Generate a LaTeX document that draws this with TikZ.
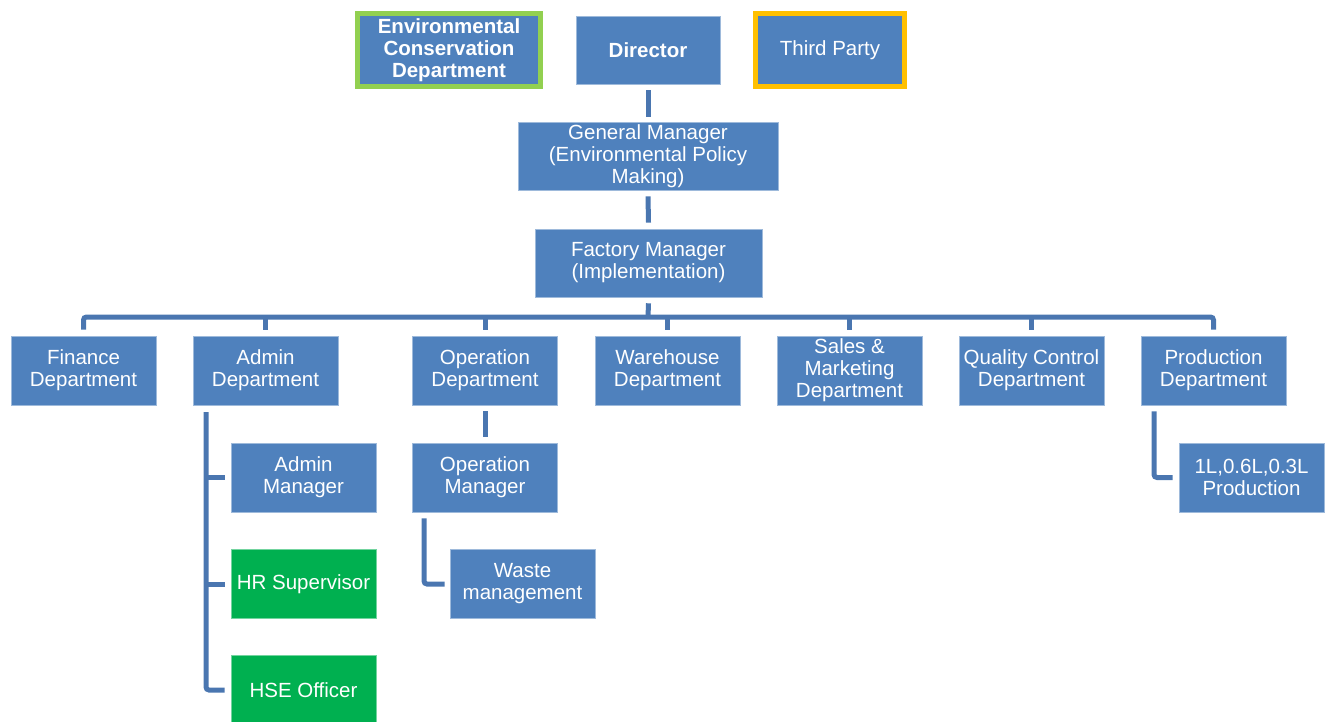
\documentclass[tikz,border=0pt]{standalone}
\usepackage{fontspec}
\setmainfont{Liberation Sans}
\usetikzlibrary{positioning}
\definecolor{boxblue}{HTML}{4F81BD}
\definecolor{lineblue}{HTML}{4A76B0}
\definecolor{hrgreen}{HTML}{00B050}
\definecolor{envgreen}{HTML}{92D050}
\definecolor{thirdgold}{HTML}{FFC000}

\begin{document}
\begin{tikzpicture}[x=1pt,y=-1pt,
  unit/.style={rectangle,fill=boxblue,draw=boxblue!55!white,line width=0.6pt,text=white,
    minimum width=145pt,minimum height=69pt,inner sep=0pt,align=center,
    font=\fontsize{20.5}{22}\selectfont},
  staff/.style={unit,fill=hrgreen,draw=hrgreen!55!white},
  conn/.style={draw=lineblue,line width=5pt}]
  \useasboundingbox (0,0) rectangle (1328,722);
  % top row
  \node[unit,draw=envgreen,line width=5pt,minimum width=183pt,minimum height=73pt,
    font=\fontsize{20.5}{22}\selectfont\bfseries] (env) at (449,50)
    {Environmental\\Conservation\\Department};
  \node[unit,minimum width=144pt,minimum height=68pt,font=\fontsize{20.5}{22}\selectfont\bfseries]
    (dir) at (648,50) {Director};
  \node[unit,draw=thirdgold,line width=5pt,minimum width=149pt,minimum height=73pt]
    (tp) at (830,50) {Third Party};
  \node[unit,minimum width=260pt,minimum height=68pt] (gm) at (648,156)
    {General Manager\\(Environmental Policy\\Making)};
  \node[unit,minimum width=227pt,minimum height=68pt] (fm) at (648.5,263)
    {Factory Manager\\(Implementation)};
  % departments
  \node[unit] (fin) at (83.5,370.5) {Finance\\Department};
  \node[unit] (adm) at (265.5,370.5) {Admin\\Department};
  \node[unit] (ope) at (485,370.5) {Operation\\Department};
  \node[unit] (war) at (667.5,370.5) {Warehouse\\Department};
  \node[unit] (sal) at (849.5,370.5) {Sales \&\\Marketing\\Department};
  \node[unit] (qc) at (1031.5,370.5) {Quality Control\\Department};
  \node[unit] (prod) at (1213.5,370.5) {Production\\Department};
  % sub units
  \node[unit] (am) at (303.5,477.5) {Admin\\Manager};
  \node[staff] (hr) at (303.5,584) {HR Supervisor};
  \node[staff] (hse) at (303.5,690) {HSE Officer};
  \node[unit] (om) at (485,477.5) {Operation\\Manager};
  \node[unit] (wm) at (522.5,584) {Waste\\management};
  \node[unit] (lp) at (1251.5,477.5) {1L,0.6L,0.3L\\Production};
  % connectors
  \coordinate (bus) at (648,317);
  \draw[conn] ([yshift=-6pt]dir.south) -- ([yshift=5pt]gm.north);
  \draw[conn] ([yshift=-6pt]gm.south) -- ([yshift=6pt]fm.north);
  \draw[conn] ([yshift=-6pt]fm.south) -- (bus);
  \draw[conn,rounded corners=3pt] ([yshift=6pt]fin.north) |- (bus) -| ([yshift=6pt]prod.north);
  \foreach \d in {adm,ope,war,sal,qc}
    \draw[conn] ([yshift=6pt]\d.north) -- (\d.north |- bus);
  \coordinate (spine) at (206,412);
  \draw[conn,rounded corners=3pt] (spine) |- ([xshift=-6pt]hse.west);
  \foreach \s in {am,hr}
    \draw[conn] (spine |- \s.west) -- ([xshift=-6pt]\s.west);
  \draw[conn] ([yshift=-6pt]ope.south) -- ([yshift=6pt]om.north);
  \draw[conn,rounded corners=3pt] ([xshift=-61pt,yshift=-6pt]om.south) |- ([xshift=-5pt]wm.west);
  \draw[conn,rounded corners=3pt] ([xshift=-59.5pt,yshift=-6pt]prod.south) |- ([xshift=-6pt]lp.west);
\end{tikzpicture}
\end{document}
